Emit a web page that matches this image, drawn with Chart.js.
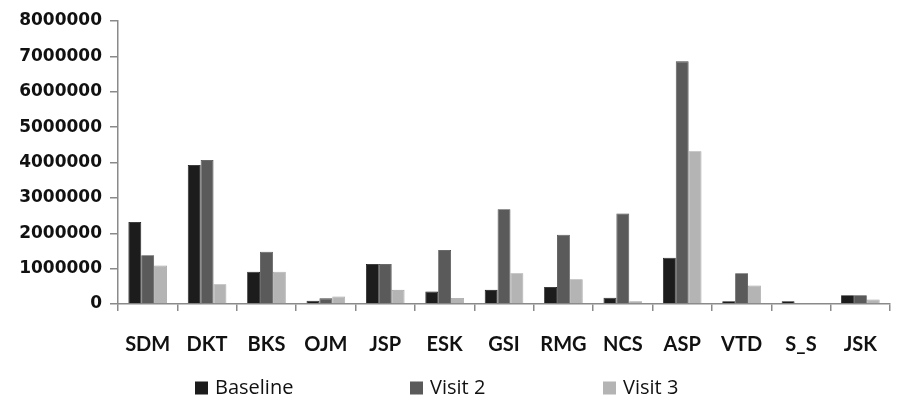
<!DOCTYPE html>
<html>
<head>
<meta charset="utf-8">
<script src="https://cdn.jsdelivr.net/npm/chart.js@4"></script>
<style>
html,body{margin:0;padding:0;background:#fff;}
#wrap{width:899px;height:398px;}
</style>
</head>
<body>
<div id="wrap"><canvas id="c" width="899" height="398"></canvas></div>
<script>
const categories = ["SDM","DKT","BKS","OJM","JSP","ESK","GSI","RMG","NCS","ASP","VTD","S_S","JSK"];
const seriesNames = ["Baseline","Visit 2","Visit 3"];
const baseline = [2320000,3930000,910000,90000,1130000,350000,400000,480000,180000,1310000,80000,80000,250000];
const visit2   = [1380000,4070000,1480000,160000,1130000,1530000,2680000,1960000,2560000,6860000,870000,0,250000];
const visit3   = [1090000,560000,910000,210000,400000,170000,870000,700000,80000,4320000,520000,0,130000];
const yTicks = [0,1000000,2000000,3000000,4000000,5000000,6000000,7000000,8000000];

const fills = ['#1c1c1c','#5a5a5a','#b4b4b4'];
const strokes = ['#111111','#444444','#a0a0a0'];

// Legend spread across the bottom like the original (item starts as fractions of width)
const legendSlots = [0.217, 0.456, 0.671];
const wideLegend = {
  id: 'wideLegend',
  afterDraw(chart) {
    const ctx = chart.ctx;
    const W = chart.width, H = chart.height;
    const cy = H - 10;
    ctx.save();
    ctx.font = '20px "Open Sans"';
    ctx.textBaseline = 'middle';
    ctx.textAlign = 'left';
    chart.data.datasets.forEach((ds, i) => {
      const x = Math.round(W * legendSlots[i]);
      ctx.fillStyle = ds.backgroundColor;
      ctx.fillRect(x, cy - 6.5, 13, 13);
      ctx.fillStyle = '#111';
      ctx.fillText(ds.label, x + 20, cy);
    });
    ctx.restore();
  }
};

new Chart(document.getElementById('c'), {
  type: 'bar',
  data: {
    labels: categories,
    datasets: [
      {label: seriesNames[0], data: baseline, backgroundColor: fills[0], borderColor: strokes[0], borderWidth: 0.8},
      {label: seriesNames[1], data: visit2, backgroundColor: fills[1], borderColor: strokes[1], borderWidth: 0.8},
      {label: seriesNames[2], data: visit3, backgroundColor: fills[2], borderColor: strokes[2], borderWidth: 0.8}
    ]
  },
  plugins: [wideLegend],
  options: {
    responsive: false,
    animation: false,
    devicePixelRatio: 1,
    layout: {padding: {top: 21, right: 0, left: 0, bottom: 24}},
    datasets: {bar: {categoryPercentage: 0.65, barPercentage: 1.0}},
    plugins: {
      tooltip: {enabled: false},
      legend: {display: false}
    },
    scales: {
      x: {
        offset: true,
        afterFit: s => { s.height = 70; },
        border: {color: '#8a8a8a', width: 1.5},
        grid: {offset: true, drawOnChartArea: false, tickLength: 7, color: '#8a8a8a', lineWidth: 1.5},
        ticks: {font: {family: 'Lato', size: 20, weight: 'bold'}, color: '#111', padding: 22, maxRotation: 0, autoSkip: false}
      },
      y: {
        min: 0, max: 8000000,
        afterFit: s => { s.width = 118; },
        afterBuildTicks: s => { s.ticks = yTicks.map(v => ({value: v})); },
        border: {color: '#8a8a8a', width: 1.5},
        grid: {drawOnChartArea: false, tickLength: 8, color: '#8a8a8a', lineWidth: 1.5},
        ticks: {font: {family: 'DejaVu Sans', size: 17, weight: 'bold'}, color: '#111', padding: 8,
                autoSkip: false, callback: v => String(v)}
      }
    }
  }
});
</script>
</body>
</html>
